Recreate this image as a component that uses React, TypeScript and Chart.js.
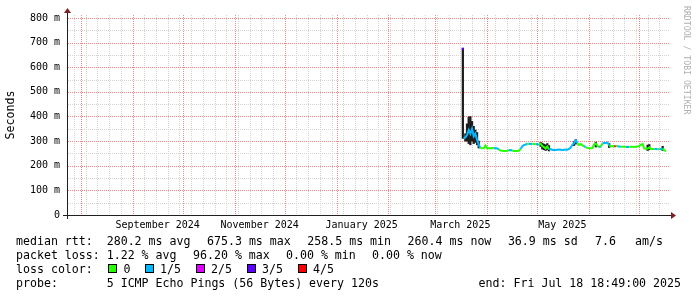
import React, { useEffect, useRef } from 'react';
import { Chart, registerables } from 'chart.js';

Chart.register(...registerables);

// ---------- data ----------
const END_TIME = '2025-07-18T18:49:00Z';
const SPAN_DAYS = 360;

const yTickValues = [0, 100, 200, 300, 400, 500, 600, 700, 800];
const yTickLabels = ['0', '100 m', '200 m', '300 m', '400 m', '500 m', '600 m', '700 m', '800 m'];
const yMinorValues = [50, 150, 250, 350, 450, 550, 650, 750];

const monthLabels = ['September 2024', 'November 2024', 'January 2025', 'March 2025', 'May 2025'];
const monthLabelDates = ['2024-09-16', '2024-11-16', '2025-01-16', '2025-03-16', '2025-05-16'];
const monthGridDates = [
  '2024-08-01', '2024-09-01', '2024-10-01', '2024-11-01', '2024-12-01', '2025-01-01',
  '2025-02-01', '2025-03-01', '2025-04-01', '2025-05-01', '2025-06-01', '2025-07-01',
];
const weekGridStart = '2024-07-28';

const lossColors = ['#26ff00', '#00b8ff', '#dd00ff', '#5e00ff', '#ff0000'];
const lossLabels = ['0', '1/5', '2/5', '3/5', '4/5'];

// first sample (isolated, high loss)
const spikeDate = '2025-03-17T12:00:00Z';
const spikeMedian = 675;
const spikeLoss = 3;

// daily median rtt (ms) starting at medianStart
const medianStart = '2025-03-18';
const medianMs = [
  311, 315, 325, 345, 330, 350, 320, 330, 305, 285, // Mar 18-27
  272, 271, 272, 282, 271, 271, 271, 272, 271, 272, // Mar 28 - Apr 6
  270, 266, 262, 261, 260, 260, 261, 263, 264, 262, // Apr 7-16
  260, 260, 260, 261, 268, 278, 284, 286, 288, 289, // Apr 17-26
  288, 289, 288, 287, 288, 285, 290, 280, 276, 270, // Apr 27 - May 6
  278, 266, 268, 264, 265, 264, 265, 266, 265, 264, // May 7-16
  265, 266, 265, 268, 274, 285, 292, 303, 292, 284, // May 17-26
  288, 283, 279, 276, 272, 271, 271, 272, 286, 290, // May 27 - Jun 5
  282, 275, 278, 290, 293, 292, 294, 282, 279, 280, // Jun 6-15
  278, 280, 279, 278, 277, 277, 277, 276, 277, 276, // Jun 16-25
  277, 277, 276, 277, 278, 280, 286, 288, 270, 268, // Jun 26 - Jul 5
  270, 275, 268, 268, 268, 268, 267, 268, 267, 270, // Jul 6-15
  262, 259,                                          // Jul 16-17
];
const lossIndex = [
  1, 1, 1, 1, 1, 1, 1, 1, 1, 1,
  0, 0, 0, 0, 0, 0, 0, 0, 1, 1,
  1, 0, 0, 0, 0, 0, 0, 1, 1, 0,
  0, 0, 0, 0, 1, 1, 1, 1, 0, 1,
  1, 0, 0, 1, 1, 0, 0, 0, 0, 0,
  0, 1, 1, 1, 1, 1, 1, 1, 1, 1,
  1, 1, 1, 1, 1, 1, 1, 1, 0, 0,
  0, 0, 1, 0, 0, 0, 0, 0, 0, 0,
  0, 1, 0, 1, 1, 1, 1, 0, 0, 0,
  4, 0, 1, 1, 0, 0, 0, 1, 1, 0,
  0, 0, 0, 0, 0, 0, 0, 0, 0, 0,
  0, 0, 0, 0, 1, 1, 0, 1, 1, 0,
  0, 0,
];

// visible smoke (ping spread)
const smokeDates = [
  '2025-03-17T12:00:00Z', '2025-03-19', '2025-03-20', '2025-03-21', '2025-03-22', '2025-03-23',
  '2025-03-24', '2025-03-25', '2025-03-26', '2025-03-27', '2025-05-03', '2025-05-04',
  '2025-05-05', '2025-05-06', '2025-05-07', '2025-05-08', '2025-05-23', '2025-05-24',
  '2025-06-05', '2025-06-13', '2025-07-06', '2025-07-07', '2025-07-15',
];
const smokeLow = [311, 300, 300, 290, 285, 300, 290, 295, 285, 272, 278, 268, 265, 262, 265, 260, 282, 288, 276, 274, 262, 265, 262];
const smokeHigh = [677, 330, 370, 398, 400, 380, 360, 345, 335, 300, 295, 292, 288, 285, 290, 282, 298, 306, 296, 290, 284, 286, 279];

// legend texts
const rttTitle = 'median rtt:';
const rttStats = ['280.2 ms avg', '675.3 ms max', '258.5 ms min', '260.4 ms now', '36.9 ms sd', '7.6', 'am/s'];
const lossTitle = 'packet loss:';
const lossStats = ['1.22 % avg', '96.20 % max', '0.00 % min', '0.00 % now'];
const lossColorTitle = 'loss color:';
const probeTitle = 'probe:';
const probeText = '5 ICMP Echo Pings (56 Bytes) every 120s';
const endText = 'end: Fri Jul 18 18:49:00 2025';

// ---------- helpers ----------
const DAY = 86400000;
const toMs = (s: string) => Date.parse(s.length === 10 ? s + 'T00:00:00Z' : s);
const FONT = '"DejaVu Sans Mono", monospace';

const rrdPlugin = {
  id: 'rrdDecor',
  beforeDatasetsDraw(chart: any) {
    const { ctx, chartArea: a, scales } = chart;
    const x = scales.x;
    const y = scales.y;
    ctx.save();
    ctx.lineWidth = 1;
    ctx.setLineDash([1, 1]);
    const hLine = (v: number, color: string) => {
      const py = Math.round(y.getPixelForValue(v)) + 0.5;
      ctx.strokeStyle = color;
      ctx.beginPath();
      ctx.moveTo(a.left + 1, py);
      ctx.lineTo(a.right, py);
      ctx.stroke();
    };
    const vLine = (ms: number, color: string) => {
      const px = Math.round(x.getPixelForValue(ms)) + 0.5;
      if (px < a.left || px > a.right) return;
      ctx.strokeStyle = color;
      ctx.beginPath();
      ctx.moveTo(px, a.top);
      ctx.lineTo(px, a.bottom);
      ctx.stroke();
    };
    const minor = 'rgb(212,212,212)';
    const major = 'rgb(234,138,138)';
    yMinorValues.forEach((v) => hLine(v, minor));
    const endMs = x.max;
    for (let t = toMs(weekGridStart); t <= endMs; t += 7 * DAY) vLine(t, minor);
    yTickValues.filter((v) => v > 0).forEach((v) => hLine(v, major));
    monthGridDates.forEach((d) => vLine(toMs(d), major));
    ctx.restore();
  },
  afterDatasetsDraw(chart: any) {
    const { ctx, chartArea: a } = chart;
    ctx.save();
    ctx.setLineDash([]);
    ctx.lineWidth = 1;
    ctx.strokeStyle = '#1f1f1f';
    const yb = Math.round(a.bottom) + 0.5;
    const xl = Math.round(a.left) + 0.5;
    ctx.beginPath();
    ctx.moveTo(a.left - 4, yb);
    ctx.lineTo(a.right + 4, yb);
    ctx.moveTo(xl, a.bottom + 4);
    ctx.lineTo(xl, a.top - 4);
    ctx.stroke();
    ctx.fillStyle = '#7f1f1f';
    ctx.beginPath();
    ctx.moveTo(a.right + 2, yb - 3.5);
    ctx.lineTo(a.right + 2, yb + 3.5);
    ctx.lineTo(a.right + 7, yb);
    ctx.closePath();
    ctx.fill();
    ctx.beginPath();
    ctx.moveTo(xl - 3.5, a.top - 2);
    ctx.lineTo(xl + 3.5, a.top - 2);
    ctx.lineTo(xl, a.top - 7);
    ctx.closePath();
    ctx.fill();
    // watermark
    ctx.translate(686, 6);
    ctx.rotate(Math.PI / 2);
    ctx.font = `8.2px ${FONT}`;
    ctx.fillStyle = '#b0b0b0';
    ctx.textBaseline = 'middle';
    ctx.textAlign = 'left';
    ctx.fillText('RRDTOOL / TOBI OETIKER', 0, 0);
    ctx.restore();
  },
};

const Txt = ({ x, y, children, right }: { x?: number; y: number; children: any; right?: number }) => (
  <div
    style={{
      position: 'absolute',
      left: x,
      right,
      top: y,
      whiteSpace: 'pre',
      fontFamily: FONT,
      fontSize: '11.6px',
      lineHeight: '14px',
      color: '#000',
    }}
  >
    {children}
  </div>
);

export default function App() {
  const ref = useRef<HTMLCanvasElement | null>(null);

  useEffect(() => {
    if (!ref.current) return;
    const endMs = toMs(END_TIME);
    const startMs = endMs - SPAN_DAYS * DAY;
    const t0 = toMs(medianStart);
    const medianPts = medianMs.map((v, i) => ({ x: t0 + i * DAY, y: v }));
    const smokePts = smokeDates.map((d, i) => ({ x: toMs(d), y: [smokeLow[i], smokeHigh[i]] }));

    const chart = new Chart(ref.current, {
      type: 'line',
      data: {
        datasets: [
          {
            type: 'line',
            label: 'median',
            data: medianPts as any,
            borderWidth: 2,
            pointRadius: 0,
            tension: 0,
            borderColor: lossColors[0],
            segment: { borderColor: (c: any) => lossColors[lossIndex[c.p0DataIndex]] },
            order: 0,
          },
          {
            type: 'line',
            label: 'first sample',
            data: [{ x: toMs(spikeDate), y: spikeMedian }] as any,
            showLine: false,
            pointStyle: 'rect',
            pointRadius: 1.5,
            pointBorderWidth: 0,
            pointBackgroundColor: lossColors[spikeLoss],
            order: 0,
          },
          {
            type: 'bar',
            label: 'smoke',
            data: smokePts as any,
            backgroundColor: '#1c1c1c',
            borderWidth: 0,
            barThickness: 1.6,
            order: 1,
          } as any,
        ],
      },
      options: {
        animation: false,
        responsive: false,
        events: [],
        layout: { padding: { top: 15, right: 28, left: 0, bottom: 0 } },
        plugins: { legend: { display: false }, tooltip: { enabled: false } },
        scales: {
          x: {
            type: 'linear',
            min: startMs,
            max: endMs,
            offset: false,
            grid: { display: false, drawTicks: false },
            border: { display: false },
            afterBuildTicks: (s: any) => {
              s.ticks = monthLabelDates.map((d) => ({ value: toMs(d) }));
            },
            afterFit: (s: any) => {
              s.height = 82;
            },
            ticks: {
              autoSkip: false,
              maxRotation: 0,
              minRotation: 0,
              padding: 4,
              color: '#000',
              font: { family: FONT, size: 10 },
              callback: (_v: any, i: number) => monthLabels[i],
            },
          },
          y: {
            type: 'linear',
            min: 0,
            max: 812,
            grid: { display: false, drawTicks: false },
            border: { display: false },
            afterBuildTicks: (s: any) => {
              s.ticks = yTickValues.map((v) => ({ value: v }));
            },
            afterFit: (s: any) => {
              s.width = 67;
            },
            ticks: {
              padding: 7,
              color: '#000',
              font: { family: FONT, size: 10 },
              callback: (_v: any, i: number) => yTickLabels[i],
            },
            title: {
              display: true,
              text: 'Seconds',
              color: '#000',
              font: { family: FONT, size: 11.6 },
              padding: { top: 4, bottom: 0 },
            },
          },
        },
      } as any,
      plugins: [rrdPlugin],
    });
    return () => chart.destroy();
  }, []);

  const rttX = [106.7, 207, 307.3, 407.6, 507.9, 595, 635];
  const lossX = [106.7, 193, 286, 372];
  const boxX = [108, 145, 196, 247, 298];
  const boxLabelX = [123.5, 160, 211, 262, 313];

  return (
    <div style={{ position: 'absolute', left: 0, top: 0, width: 697, height: 297, background: '#fff', overflow: 'hidden' }}>
      <canvas ref={ref} width={697} height={297} style={{ position: 'absolute', left: 0, top: 0, width: 697, height: 297 }} />
      <Txt x={16} y={234}>{rttTitle}</Txt>
      {rttStats.map((s, i) => (
        <Txt key={'r' + i} x={rttX[i]} y={234}>{s}</Txt>
      ))}
      <Txt x={16} y={248}>{lossTitle}</Txt>
      {lossStats.map((s, i) => (
        <Txt key={'l' + i} x={lossX[i]} y={248}>{s}</Txt>
      ))}
      <Txt x={16} y={262}>{lossColorTitle}</Txt>
      {lossLabels.map((s, i) => (
        <React.Fragment key={'c' + i}>
          <div
            style={{
              position: 'absolute',
              left: boxX[i],
              top: 264,
              width: 7,
              height: 7,
              background: lossColors[i],
              border: '1px solid #000',
            }}
          />
          <Txt x={boxLabelX[i]} y={262}>{s}</Txt>
        </React.Fragment>
      ))}
      <Txt x={16} y={276}>{probeTitle}</Txt>
      <Txt x={106.7} y={276}>{probeText}</Txt>
      <Txt right={16} y={276}>{endText}</Txt>
    </div>
  );
}
